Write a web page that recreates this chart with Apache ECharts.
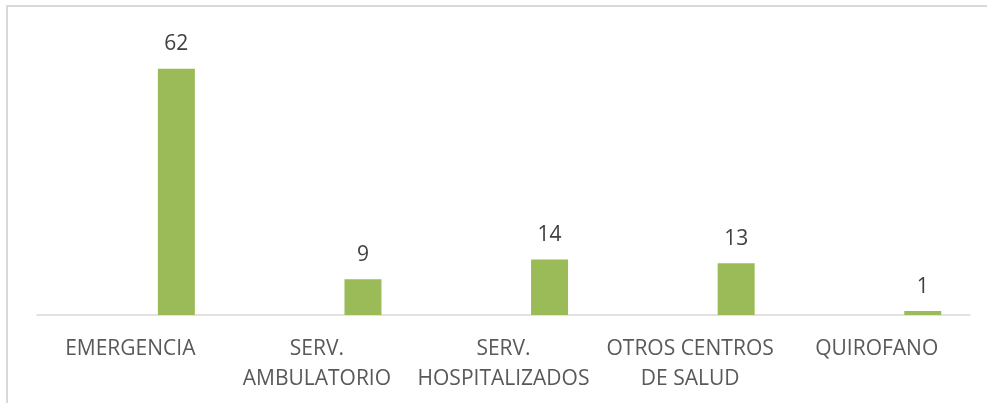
<!DOCTYPE html>
<html>
<head>
<meta charset="utf-8">
<script src="https://cdn.jsdelivr.net/npm/echarts@6/dist/echarts.min.js"></script>
<style>
  html, body { margin: 0; padding: 0; background: #ffffff; }
  #chart { width: 987px; height: 403px; }
</style>
</head>
<body>
<div id="chart"></div>
<script>
// categorias del eje x
const categorias = ['EMERGENCIA', 'SERV.\nAMBULATORIO', 'SERV.\nHOSPITALIZADOS', 'OTROS CENTROS\nDE SALUD', 'QUIROFANO']
// serie vacia (ocupa el hueco izquierdo de cada categoria, como en el original)
const serieVacia = [null, null, null, null, null]
// valores
const valores = [62, 9, 14, 13, 1]

const chart = echarts.init(document.getElementById('chart'))
chart.setOption({
  animation: false,
  textStyle: {
    fontFamily: 'Open Sans',
  },
  graphic: [
    {
      type: 'rect',
      shape: { x: 7, y: 6, width: 1000, height: 500 },
      style: { fill: 'none', stroke: '#d9d9d9', lineWidth: 2 },
      silent: true,
    },
  ],
  grid: {
    left: 37,
    right: 17,
    top: 21,
    bottom: 88,
  },
  xAxis: {
    type: 'category',
    data: categorias,
    axisLine: {
      show: true,
      lineStyle: {
        color: '#d9d9d9',
        width: 1.5,
      },
    },
    axisTick: { show: false },
    axisLabel: {
      interval: 0,
      color: '#595959',
      fontSize: 21,
      lineHeight: 30,
      margin: 19,
      fontFamily: 'Open Sans',
    },
  },
  yAxis: {
    type: 'value',
    min: 0,
    max: 74,
    show: false,
    splitLine: { show: false },
  },
  series: [
    {
      name: 'vacia',
      type: 'bar',
      data: serieVacia,
      barWidth: 37,
      barGap: '149%',
    },
    {
      name: 'total',
      type: 'bar',
      data: valores,
      barWidth: 37,
      barGap: '149%',
      itemStyle: {
        color: '#9bbb59',
      },
      label: {
        show: true,
        position: 'top',
        distance: 14,
        color: '#404040',
        fontSize: 21,
        fontFamily: 'Open Sans',
      },
    },
  ],
})
</script>
</body>
</html>
